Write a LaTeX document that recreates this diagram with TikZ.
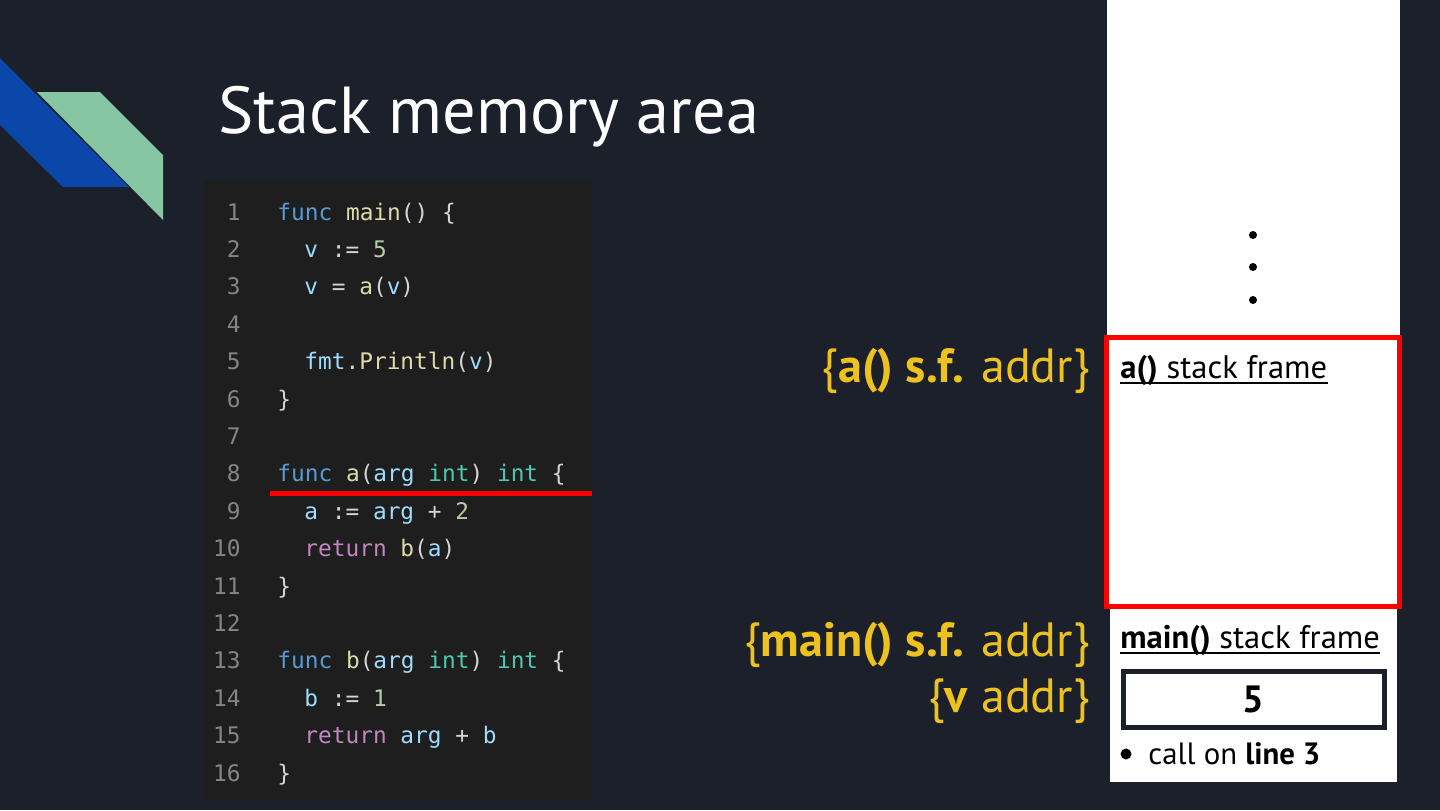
\documentclass[tikz,border=0pt]{standalone}
\usepackage{fontspec}
\setmainfont{PT Sans}
\newfontfamily\codefont{DejaVu Sans Mono}
\definecolor{bg}{HTML}{1B202B}
\definecolor{panel}{HTML}{1E1E1E}
\definecolor{logoblue}{HTML}{0B47A8}
\definecolor{logogreen}{HTML}{86C6A2}
\definecolor{ckw}{HTML}{569CD6}
\definecolor{cfn}{HTML}{DCDCAA}
\definecolor{cvar}{HTML}{9CDCFE}
\definecolor{cnum}{HTML}{B5CEA8}
\definecolor{ctyp}{HTML}{4EC9B0}
\definecolor{cctl}{HTML}{C586C0}
\definecolor{cpun}{HTML}{D4D4D4}
\definecolor{clnum}{HTML}{858585}
\definecolor{addr}{HTML}{EEC21E}
\definecolor{hired}{HTML}{FF0000}
\newcommand{\Ckw}[1]{\textcolor{ckw}{#1}}
\newcommand{\Cfn}[1]{\textcolor{cfn}{#1}}
\newcommand{\Cvar}[1]{\textcolor{cvar}{#1}}
\newcommand{\Cnum}[1]{\textcolor{cnum}{#1}}
\newcommand{\Ctyp}[1]{\textcolor{ctyp}{#1}}
\newcommand{\Cctl}[1]{\textcolor{cctl}{#1}}
\begin{document}
\begin{tikzpicture}[x=0.5pt,y=-0.5pt,
  lnum/.style={anchor=base east,inner sep=0,text=clnum,font=\codefont\fontsize{11.4pt}{13pt}\selectfont},
  code/.style={anchor=base west,inner sep=0,text=cpun,font=\codefont\fontsize{11.4pt}{13pt}\selectfont},
  addrlbl/.style={anchor=base east,inner sep=0,text=addr,font=\fontsize{24pt}{27pt}\selectfont},
  framelbl/.style={anchor=base west,inner sep=0,text=black,font=\fontsize{16.3pt}{18pt}\selectfont},
  uline/.style={line width=1pt,black},
  dotmark/.style={circle,fill=black,inner sep=0,minimum size=4pt}]
\useasboundingbox (0,0) rectangle (1440,810);
\fill[bg] (0,0) rectangle (1440,810);
% logo
\fill[logoblue] (0,58) -- (129,187) -- (63,187) -- (0,125) -- cycle;
\fill[logogreen] (37,92) -- (100,92) -- (163,155) -- (163,220) -- cycle;
% title
\node[anchor=base west,inner sep=0,text=white,font=\fontsize{33.2pt}{36pt}\selectfont] (title) at (218,133) {Stack memory area};
% code panel
\fill[panel] (204,181) rectangle (592,800);
\foreach \i in {1,...,16} {
  \node[lnum] (ln\i) at (241,{220+(\i-1)*37.4}) {\i};
}
\node[code] (c1) at (277,220.0) {\Ckw{func} \Cfn{main}() \{};
\node[code] (c2) at (304,257.4) {\Cvar{v} := \Cnum{5}};
\node[code] (c3) at (304,294.8) {\Cvar{v} = \Cfn{a}(\Cvar{v})};
\node[code] (c5) at (304,369.6) {\Cvar{fmt}.\Cfn{Println}(\Cvar{v})};
\node[code] (c6) at (277,407.0) {\}};
\node[code] (c8) at (277,481.8) {\Ckw{func} \Cfn{a}(\Cvar{arg} \Ctyp{int}) \Ctyp{int} \{};
\node[code] (c9) at (304,519.2) {\Cvar{a} := \Cvar{arg} + \Cnum{2}};
\node[code] (c10) at (304,556.6) {\Cctl{return} \Cfn{b}(\Cvar{a})};
\node[code] (c11) at (277,594.0) {\}};
\node[code] (c13) at (277,668.8) {\Ckw{func} \Cfn{b}(\Cvar{arg} \Ctyp{int}) \Ctyp{int} \{};
\node[code] (c14) at (304,706.2) {\Cvar{b} := \Cnum{1}};
\node[code] (c15) at (304,743.6) {\Cctl{return} \Cvar{arg} + \Cvar{b}};
\node[code] (c16) at (277,781.0) {\}};
% red underline
\coordinate (ulA) at (270,493);
\coordinate (ulB) at (592,493);
\draw[hired,line width=2.5pt] (ulA) -- (ulB);
% stack column
\fill[white] (1107,0) rectangle (1400,336);
\fill[white] (1110,605) rectangle (1397,782);
\node[dotmark] (d1) at (1253,235) {};
\node[dotmark] (d2) at (1253,267) {};
\node[dotmark] (d3) at (1253,300) {};
\node[draw=hired,line width=2.5pt,fill=white,outer sep=0,minimum width=293pt*0.5,minimum height=269pt*0.5,inner sep=0,anchor=north west] (aframe) at (1106.5,337.5) {};
\node[framelbl] (alabel) at (1120,378) {\textbf{a()} stack frame};
\draw[uline] ([yshift=-2.6pt]alabel.base west) -- ([yshift=-2.6pt]alabel.base east);
\node[framelbl] (mlabel) at (1120,648) {\textbf{main()} stack frame};
\draw[uline] ([yshift=-2.6pt]mlabel.base west) -- ([yshift=-2.6pt]mlabel.base east);
\node[draw=bg,line width=2.5pt,fill=white,outer sep=0,minimum width=261pt*0.5,minimum height=56pt*0.5,inner sep=0,font=\bfseries\fontsize{19pt}{21pt}\selectfont] (vbox) at (1253.5,699) {5};
\node[dotmark,minimum size=5.5pt] (bul) at (1126,754) {};
\node[anchor=base west,inner sep=0,font=\fontsize{15.4pt}{17pt}\selectfont] (note) at (1148,764) {call on \textbf{line 3}};
% address labels
\node[addrlbl] (aaddr) at (1090,382) {\{\textbf{a() s.f.} addr\}};
\node[addrlbl] (maddr) at (1090,656) {\{\textbf{main() s.f.} addr\}};
\node[addrlbl] (vaddr) at (1090,712) {\{\textbf{v} addr\}};
\end{tikzpicture}
\end{document}
